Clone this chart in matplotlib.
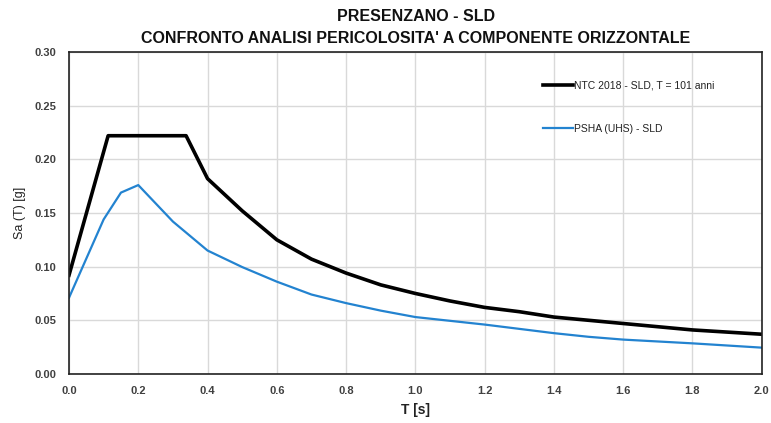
import matplotlib
matplotlib.use("Agg")
import matplotlib.pyplot as plt

plt.rcParams['font.family'] = ['Liberation Sans Narrow', 'Liberation Sans', 'DejaVu Sans']

# NTC 2018 - SLD spectrum
ntc_T = [0.0, 0.113, 0.338, 0.4, 0.5, 0.6, 0.7, 0.8, 0.9, 1.0, 1.1, 1.2, 1.3, 1.4,
         1.5, 1.6, 1.7, 1.8, 1.9, 2.0]
ntc_sa = [0.092, 0.222, 0.222, 0.182, 0.152, 0.125, 0.107, 0.094, 0.083, 0.075,
          0.068, 0.062, 0.058, 0.053, 0.050, 0.047, 0.044, 0.041, 0.039, 0.037]

# PSHA (UHS) - SLD
psha_T = [0.0, 0.1, 0.15, 0.2, 0.3, 0.4, 0.5, 0.6, 0.7, 0.8, 0.9, 1.0, 1.2, 1.4,
          1.5, 1.6, 1.8, 2.0]
psha_sa = [0.071, 0.144, 0.169, 0.176, 0.142, 0.115, 0.0996, 0.086, 0.074, 0.066,
           0.059, 0.053, 0.046, 0.038, 0.0346, 0.032, 0.0285, 0.0245]

fig = plt.figure(figsize=(7.71, 4.23), dpi=100)
ax = fig.add_axes([0.0895, 0.116, 0.8985, 0.761])

ax.plot(ntc_T, ntc_sa, color="black", lw=2.6, label="NTC 2018 - SLD, T = 101 anni")
ax.plot(psha_T, psha_sa, color="#2383d0", lw=1.6, label="PSHA (UHS) - SLD")

ax.set_xlim(0, 2.0)
ax.set_ylim(0, 0.30)
ax.set_xticks([i * 0.2 for i in range(11)])
ax.set_yticks([i * 0.05 for i in range(7)])
ax.set_xticklabels(["%.1f" % (i * 0.2) for i in range(11)])
ax.set_yticklabels(["%.2f" % (i * 0.05) for i in range(7)])
ax.tick_params(length=0, labelsize=8, colors="#404040", pad=9)
for lab in ax.get_xticklabels() + ax.get_yticklabels():
    lab.set_fontweight("bold")
ax.grid(True, color="#d9d9d9", lw=1)
ax.set_axisbelow(True)
for s in ax.spines.values():
    s.set_color("#222222")
    s.set_linewidth(1.2)

ax.set_xlabel("T [s]", fontsize=10, fontweight="bold", color="#222222", labelpad=5)
ax.set_ylabel("Sa (T) [g]", fontsize=9, color="#222222")
ax.yaxis.set_label_coords(-0.062, 0.5)

fig.text(0.539, 0.962, "PRESENZANO - SLD", ha="center", va="center",
         fontsize=11.5, fontweight="bold", color="#111111")
fig.text(0.539, 0.908, "CONFRONTO ANALISI PERICOLOSITA' A COMPONENTE ORIZZONTALE",
         ha="center", va="center", fontsize=11.5, fontweight="bold", color="#111111")

leg = ax.legend(loc="upper left", bbox_to_anchor=(0.67, 0.94), frameon=False,
                fontsize=7.5, labelspacing=3.2, handlelength=2.9, handletextpad=0.1)
for t in leg.get_texts():
    t.set_color("#222222")

fig.savefig("out.png", dpi=100)
